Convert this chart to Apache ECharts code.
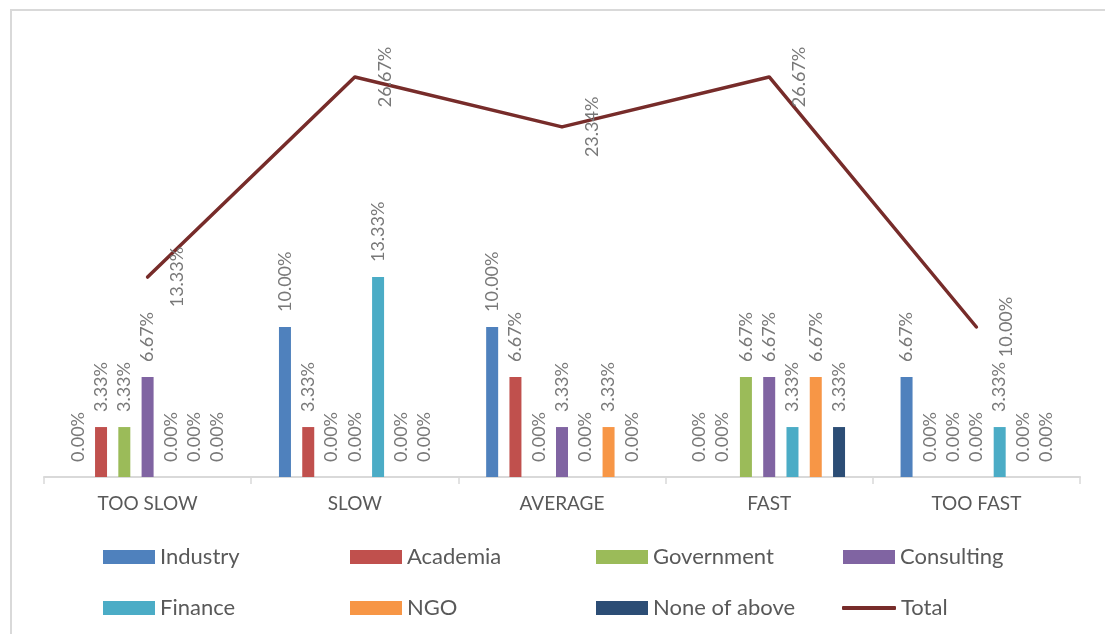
<!DOCTYPE html>
<html>
<head>
<meta charset="utf-8">
<script src="https://cdn.jsdelivr.net/npm/echarts@6/dist/echarts.min.js"></script>
<style>
  html, body { margin: 0; padding: 0; background: #ffffff; }
  #chart { width: 1105px; height: 634px; }
</style>
</head>
<body>
<div id="chart"></div>
<script>
// Response speed categories
const categories = ['TOO SLOW', 'SLOW', 'AVERAGE', 'FAST', 'TOO FAST'];

// Share of respondents (%) by sector
const industry    = [0.00, 10.00, 10.00, 0.00, 6.67];
const academia    = [3.33, 3.33, 6.67, 0.00, 0.00];
const government  = [3.33, 0.00, 0.00, 6.67, 0.00];
const consulting  = [6.67, 0.00, 3.33, 6.67, 0.00];
const finance     = [0.00, 13.33, 0.00, 3.33, 3.33];
const ngo         = [0.00, 0.00, 3.33, 6.67, 0.00];
const noneOfAbove = [0.00, 0.00, 0.00, 3.33, 0.00];
const total       = [13.33, 26.67, 23.34, 26.67, 10.00];

const barNames  = ['Industry', 'Academia', 'Government', 'Consulting', 'Finance', 'NGO', 'None of above'];
const barValues = [industry, academia, government, consulting, finance, ngo, noneOfAbove];
const barColors = ['#4F81BD', '#C0504D', '#9BBB59', '#8064A2', '#4BACC6', '#F79646', '#2C4D75'];
const totalName  = 'Total';
const totalColor = '#772C2A';

const FONT = 'Lato';
const pct = p => Number(p.value).toFixed(2) + '%';

const barSeries = barNames.map((name, i) => ({
  name: name,
  type: 'bar',
  data: barValues[i],
  barWidth: 12,
  barGap: '94%',
  itemStyle: { color: barColors[i] },
  label: {
    show: true,
    position: 'top',
    distance: 15,
    rotate: 90,
    align: 'left',
    verticalAlign: 'middle',
    formatter: pct,
    color: '#787878',
    fontSize: 18,
    fontFamily: FONT
  }
}));

const lineSeries = {
  name: totalName,
  type: 'line',
  data: total,
  symbol: 'circle',
  symbolSize: 2,
  itemStyle: { color: totalColor },
  lineStyle: { color: totalColor, width: 3.5, cap: 'round', join: 'round' },
  label: {
    show: true,
    position: [31, 1],
    rotate: 90,
    align: 'center',
    verticalAlign: 'middle',
    formatter: pct,
    color: '#787878',
    fontSize: 18,
    fontFamily: FONT
  },
  z: 5
};

// Legend laid out as a 4 x 2 grid, one component per entry
const legendCols = [103, 350, 596, 843];
const legendRows = [546, 597];
const legendNames = barNames.concat([totalName]);
const legends = legendNames.map((name, i) => {
  const isLine = name === totalName;
  return {
    data: [name],
    left: legendCols[i % 4] + (isLine ? -1 : 0),
    top: legendRows[Math.floor(i / 4)],
    padding: 0,
    itemGap: 0,
    itemWidth: isLine ? 54 : 52,
    itemHeight: isLine ? 4 : 14,
    icon: isLine ? 'roundRect' : 'rect',
    selectedMode: false,
    textStyle: { color: '#595959', fontSize: 22, fontFamily: FONT }
  };
});

const chart = echarts.init(document.getElementById('chart'), null, { renderer: 'canvas' });
chart.setOption({
  animation: false,
  backgroundColor: '#ffffff',
  textStyle: { fontFamily: FONT },
  graphic: [{
    type: 'rect',
    shape: { x: 11, y: 10, width: 1200, height: 700 },
    style: { fill: 'none', stroke: '#d9d9d9', lineWidth: 2 },
    silent: true
  }],
  legend: legends,
  grid: { left: 44, right: 25, top: 27, bottom: 157 },
  xAxis: {
    type: 'category',
    data: categories,
    axisLine: { lineStyle: { color: '#d9d9d9', width: 2 } },
    axisTick: { show: true, length: 7, lineStyle: { color: '#d9d9d9', width: 1.5 } },
    axisLabel: { color: '#595959', fontSize: 19, margin: 17, fontFamily: FONT }
  },
  yAxis: {
    type: 'value',
    min: 0,
    max: 30,
    show: false,
    splitLine: { show: false }
  },
  series: barSeries.concat([lineSeries])
});
</script>
</body>
</html>
